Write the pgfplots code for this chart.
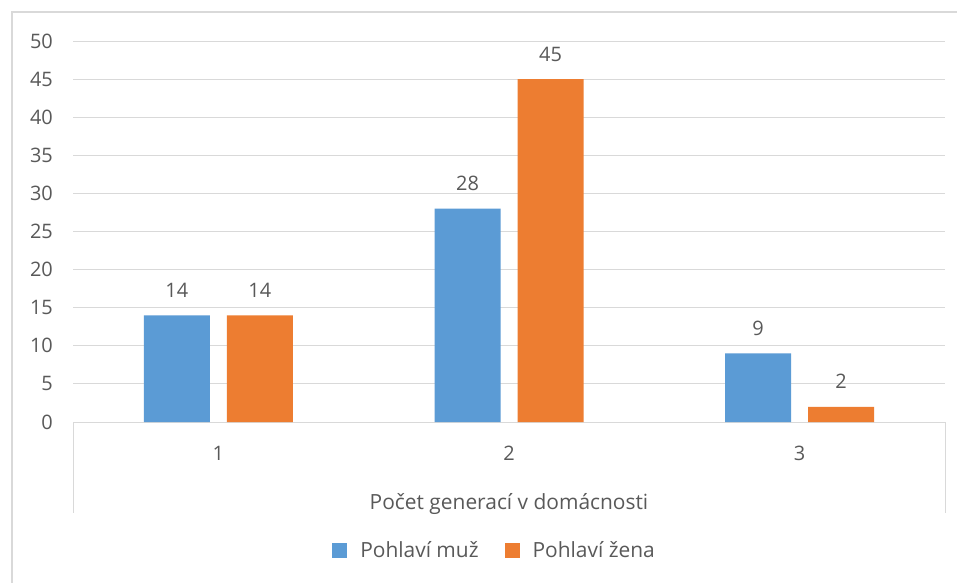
\documentclass[border=0pt]{standalone}
\usepackage{fontspec}
\setmainfont{Open Sans}
\usepackage{pgfplots}
\pgfplotsset{compat=1.18}
\definecolor{cblue}{HTML}{5B9BD5}
\definecolor{corange}{HTML}{ED7D31}
\definecolor{ctext}{HTML}{595959}
\definecolor{cgrid}{HTML}{D9D9D9}
\newcommand{\cf}{\fontsize{20}{24}\selectfont}
\newcommand{\lf}{\fontsize{21}{25}\selectfont}
\begin{document}
\begin{tikzpicture}
\useasboundingbox[fill=white] (-73bp,-161bp) rectangle (884bp,422bp);
\draw[cgrid, line width=2bp] (-61bp,-161bp) -- (-61bp,410bp) -- (884bp,410bp);
\begin{axis}[
  at={(0,0)}, anchor=south west,
  scale only axis, width=872bp, height=381bp,
  xmin=-0.5, xmax=2.5, ymin=0, ymax=50,
  ybar=17bp, bar width=66bp,
  axis line style={draw=none},
  major tick length=0pt,
  ytick={0,5,...,50},
  ymajorgrids, grid style={cgrid, line width=1bp},
  xtick={0,1,2}, xticklabels={1,2,3},
  /pgf/number format/assume math mode=true,
  yticklabel style={font=\cf, text=ctext, anchor=east, inner sep=0pt, xshift=-20bp},
  xticklabel style={font=\cf, text=ctext, anchor=base, inner sep=0pt, yshift=-38bp},
  xlabel={Počet generací v domácnosti},
  xlabel style={font=\lf, text=ctext, at={(axis description cs:0.5,0)}, anchor=base, inner sep=0pt, yshift=-87bp},
  nodes near coords,
  nodes near coords style={font=\cf, text=ctext, anchor=base, inner sep=0pt, yshift=18bp},
  legend columns=2,
  legend style={draw=none, fill=none, font=\lf, text=ctext, at={(0.4834,-0.336)}, anchor=center,
    /tikz/every even column/.append style={column sep=24bp}},
  legend image code/.code={\fill[#1,draw=none] (0bp,-7.5bp) rectangle (15bp,7.5bp);
    \path (26bp,0bp);},
]
\addplot[fill=cblue, draw=none] coordinates {(0,14) (1,28) (2,9)};
\addlegendentry{Pohlaví muž}
\addplot[fill=corange, draw=none] coordinates {(0,14) (1,45) (2,2)};
\addlegendentry{Pohlaví žena}
\end{axis}
\draw[cgrid, line width=1bp] (0bp,0bp) -- (0bp,-91bp);
\draw[cgrid, line width=1bp] (872bp,0bp) -- (872bp,-91bp);
\end{tikzpicture}
\end{document}
